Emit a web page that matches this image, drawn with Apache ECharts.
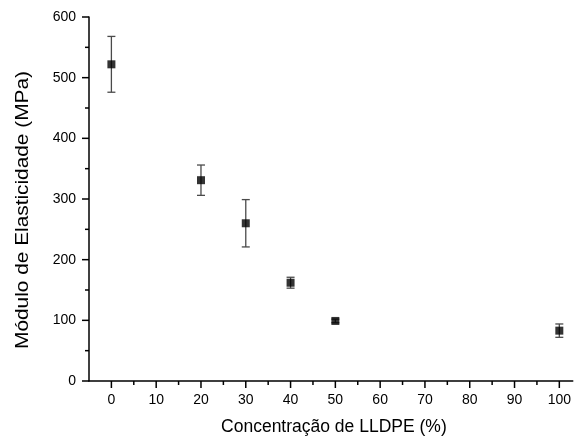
<!DOCTYPE html>
<html>
<head>
<meta charset="utf-8">
<script src="https://cdn.jsdelivr.net/npm/echarts@6/dist/echarts.min.js"></script>
<style>
  html, body { margin: 0; padding: 0; background: #fff; }
  #chart { width: 574px; height: 441px; }
</style>
</head>
<body>
<div id="chart"></div>
<script>
// LLDPE concentration (%) and elastic modulus (MPa) with standard deviation
var concentration = [0, 20, 30, 40, 50, 100];
var modulus = [522, 331, 260, 162, 99, 83];
var deviation = [46, 25, 39, 9, 3, 11];
var xTicks = [0, 10, 20, 30, 40, 50, 60, 70, 80, 90, 100];
var xMinorTicks = [5, 15, 25, 35, 45, 55, 65, 75, 85, 95];
var yTicks = [0, 100, 200, 300, 400, 500, 600];
var yMinorTicks = [50, 150, 250, 350, 450, 550];

var points = concentration.map(function (c, i) { return [c, modulus[i]]; });
var bars = concentration.map(function (c, i) {
  return [c, modulus[i] - deviation[i], modulus[i] + deviation[i]];
});

var font = 'Liberation Sans, Arial, sans-serif';
var chart = echarts.init(document.getElementById('chart'), null, { renderer: 'canvas' });

function tickLines(api) {
  var children = [];
  var st = { stroke: '#000', lineWidth: 1.5 };
  function xt(t, len) {
    var p = api.coord([t, 0]);
    children.push({ type: 'line', shape: { x1: p[0], y1: p[1], x2: p[0], y2: p[1] + len }, style: st });
  }
  function yt(t, len) {
    var p = api.coord([-5, t]);
    children.push({ type: 'line', shape: { x1: p[0], y1: p[1], x2: p[0] - len, y2: p[1] }, style: st });
  }
  xTicks.forEach(function (t) { xt(t, 7); });
  xMinorTicks.forEach(function (t) { xt(t, 4); });
  yTicks.forEach(function (t) { yt(t, 7); });
  yMinorTicks.forEach(function (t) { yt(t, 4); });
  return children;
}

chart.setOption({
  animation: false,
  backgroundColor: '#fff',
  grid: { left: 89, top: 17, right: 0, bottom: 60, containLabel: false },
  xAxis: {
    type: 'value',
    min: -5, max: 103, interval: 5,
    name: 'Concentração de LLDPE (%)',
    nameLocation: 'middle',
    nameGap: 37,
    nameTextStyle: { fontFamily: font, fontSize: 17.5, color: '#000', padding: [0, 0, 0, 6] },
    axisLine: { show: true, onZero: false, lineStyle: { color: '#000', width: 1.5 } },
    axisTick: { show: false },
    axisLabel: {
      fontFamily: font, fontSize: 14, color: '#000', margin: 12,
      showMaxLabel: false,
      formatter: function (v) { return xTicks.indexOf(v) >= 0 ? String(v) : ''; }
    },
    splitLine: { show: false }
  },
  yAxis: {
    type: 'value',
    min: 0, max: 600, interval: 50,
    axisLine: { show: true, onZero: false, lineStyle: { color: '#000', width: 1.5 } },
    axisTick: { show: false },
    axisLabel: {
      fontFamily: font, fontSize: 14, color: '#000', margin: 13,
      formatter: function (v) { return yTicks.indexOf(v) >= 0 ? String(v) : ''; }
    },
    splitLine: { show: false }
  },
  graphic: [
    {
      // Y-axis title, drawn tall and narrow
      type: 'text',
      x: 23, y: 210,
      rotation: Math.PI / 2,
      scaleX: 1.19,
      style: {
        text: 'Módulo de Elasticidade (MPa)',
        font: '17.5px ' + font,
        fill: '#000',
        align: 'center',
        verticalAlign: 'middle'
      }
    }
  ],
  series: [
    {
      type: 'custom',
      silent: true,
      data: [0],
      renderItem: function (params, api) {
        return { type: 'group', children: tickLines(api) };
      },
      clip: false,
      z: 1
    },
    {
      type: 'custom',
      data: bars,
      renderItem: function (params, api) {
        var lo = api.coord([api.value(0), api.value(1)]);
        var hi = api.coord([api.value(0), api.value(2)]);
        var cap = 4;
        var st = { stroke: '#4a4a4a', lineWidth: 1.3 };
        return {
          type: 'group',
          children: [
            { type: 'line', shape: { x1: lo[0], y1: lo[1], x2: hi[0], y2: hi[1] }, style: st },
            { type: 'line', shape: { x1: hi[0] - cap, y1: hi[1], x2: hi[0] + cap, y2: hi[1] }, style: st },
            { type: 'line', shape: { x1: lo[0] - cap, y1: lo[1], x2: lo[0] + cap, y2: lo[1] }, style: st }
          ]
        };
      },
      z: 2
    },
    {
      type: 'scatter',
      data: points,
      symbol: 'rect',
      symbolSize: 8,
      itemStyle: { color: '#000' },
      z: 3
    }
  ]
});
</script>
</body>
</html>
